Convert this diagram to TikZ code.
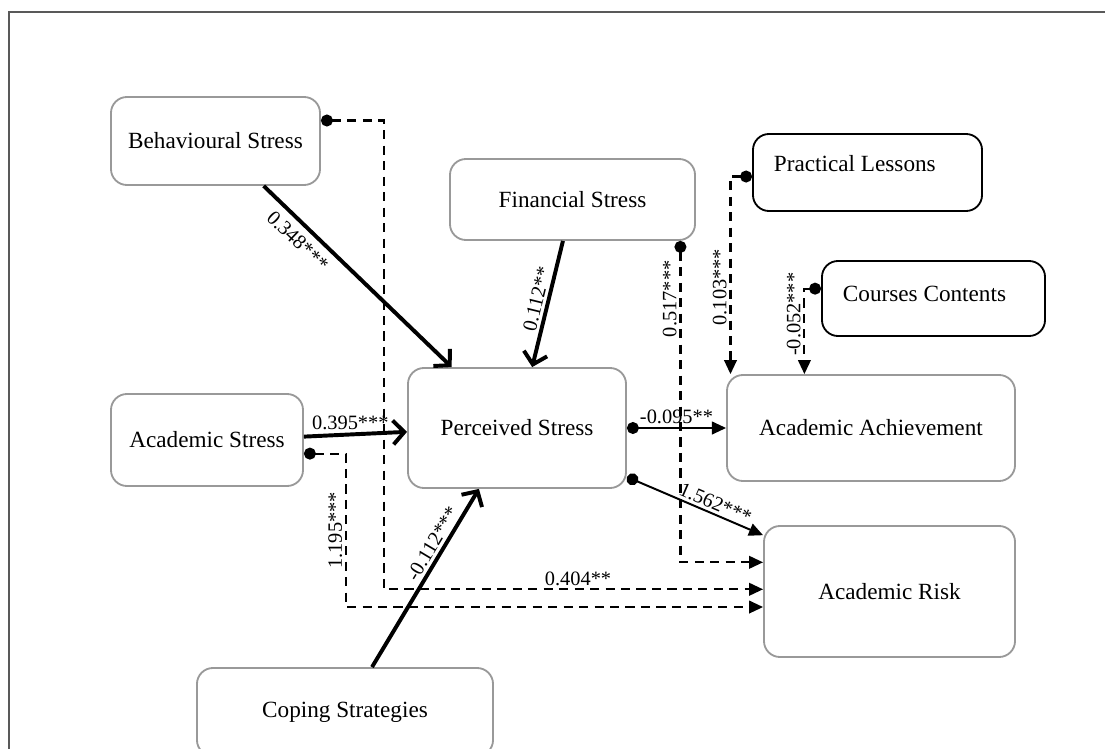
\documentclass[tikz,border=0pt]{standalone}
\usepackage{fontspec}
\setmainfont{Liberation Serif}
\usetikzlibrary{arrows.meta}
\tikzset{
  factor/.style     = {rectangle, rounded corners=0.4cm, draw=black!40, line width=1.3pt,
                       fill=white, align=center, inner sep=0pt,
                       font=\fontsize{16.5}{19}\selectfont},
  extra/.style      = {factor, draw=black, inner xsep=0.525cm},
  effect/.style     = {line width=2.8pt, -{Straight Barb[length=8pt,width=17pt]}},
  path-link/.style  = {line width=1.4pt, {Circle[length=8.5pt]}-{Triangle[length=10pt,width=9pt]}},
  moderation/.style = {path-link, line width=1.5pt, dash pattern=on 6.5pt off 4.5pt},
  coef/.style       = {font=\fontsize{14.5}{17}\selectfont, inner sep=2pt},
}

\begin{document}
\begin{tikzpicture}
  [
    x = 0.025cm,
    y = -0.025cm,
  ]
  \useasboundingbox (0,0) rectangle (1105,749);
  \clip (0,0) rectangle (1105,749);
  \draw [black!65, line width=0.8pt] (9,760) -- (9,12) -- (1110,12);

  \node [factor, minimum width=5.225cm, minimum height=2.2cm]        (behav)   at (215.5,141)   {Behavioural Stress};
  \node [factor, minimum width=6.125cm, minimum height=2.025cm]      (fin)     at (572.5,199.5) {Financial Stress};
  \node [extra, minimum height=1.925cm, text depth=12.8pt]           (pract)   at (867.5,172.5) {\makebox[4.675cm][l]{Practical Lessons}};
  \node [extra, minimum height=1.875cm, text depth=7pt]              (courses) at (933.5,298.5) {\makebox[4.525cm][l]{Courses Contents}};
  \node [factor, minimum width=4.8cm,   minimum height=2.3cm]        (acad)    at (207,440)     {Academic Stress};
  \node [factor, minimum width=5.45cm,  minimum height=3cm]          (perc)    at (517,428)     {Perceived Stress};
  \node [factor, minimum width=7.2cm,   minimum height=2.65cm]       (achv)    at (871,428)     {Academic Achievement};
  \node [factor, minimum width=6.275cm, minimum height=3.275cm]      (risk)    at (889.5,591.5) {Academic Risk};
  \node [factor, minimum width=7.4cm,   minimum height=2.2cm]        (coping)  at (345,712)     {Coping Strategies};

  \draw [moderation] (behav.11) -- ++(63,0) |- node [coef, pos=0.756, above] {0.404**} (risk.179);
  \draw [moderation] (acad.-8) -- ++(42,0) |- node [coef, pos=0.25, rotate=90, above] {1.195***} (risk.187);
  \draw [moderation] (fin.-21) |- node [coef, pos=0.09, rotate=90, above] {0.517***} (risk.167);
  \draw [moderation] (pract.182) -| node [coef, pos=0.78, rotate=90, above] {0.103***} (achv.159);
  \draw [moderation] (courses.175) -| node [coef, pos=0.65, rotate=90, above] {-0.052***} (achv.141);

  \draw [effect] (behav.-43) -- node [coef, pos=0.24, sloped, below=3pt] {0.348***} (perc.137);
  \draw [effect] (fin.-103) -- node [coef, pos=0.48, sloped, above] {0.112**} (perc.76);
  \draw [effect] (acad.2) -- node [coef, pos=0.45, above] {0.395***} (perc.182);
  \draw [effect] (coping.59) -- node [coef, pos=0.66, sloped, above] {-0.112***} (perc.238);

  \draw [path-link] (perc.east) -- node [coef, above] {-0.095**} (achv.west);
  \draw [path-link] (perc.-24) -- node [coef, pos=0.62, sloped, above] {1.562***} (risk.156.5);
\end{tikzpicture}
\end{document}
